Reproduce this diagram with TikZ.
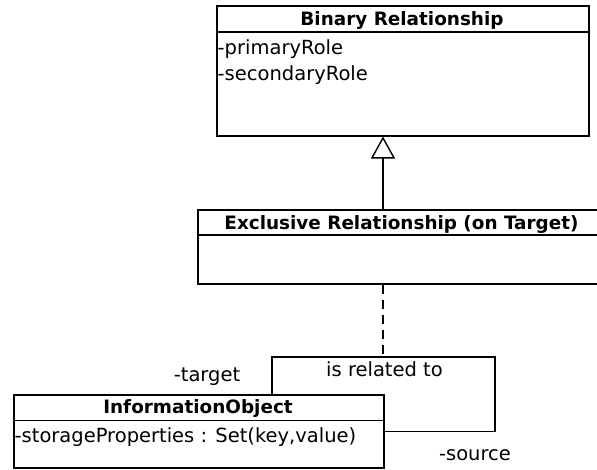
\documentclass[tikz,border=0pt]{standalone}
\usepackage{fontspec}
\setmainfont{DejaVu Sans}
\usetikzlibrary{arrows.meta}

\tikzset{
  classbox/.style={draw, line width=1.5pt, rectangle, inner sep=0pt},
  compartment/.style={line width=1.5pt},
  classname/.style={inner sep=0pt, anchor=base, font=\bfseries\fontsize{18.4}{22}\selectfont},
  member/.style={inner sep=0pt, anchor=base west, font=\fontsize{19.5}{24}\selectfont},
  rolename/.style={inner sep=0pt, anchor=base, font=\fontsize{19.5}{24}\selectfont},
  generalization/.style={line width=1.4pt, -{Triangle[open, length=22pt, width=24pt, line width=1.4pt]}},
  association/.style={line width=1.4pt},
  assocclass/.style={line width=1.3pt, dash pattern=on 9pt off 6pt},
}

\begin{document}
\begin{tikzpicture}[x=1pt, y=-1pt]
  \clip (0,0) rectangle (597,469);
  \fill[white] (0,0) rectangle (597,469);

  % Binary Relationship class
  \node[classbox, minimum width=372pt, minimum height=130pt, anchor=north west] (binrel) at (216,5) {};
  \draw[compartment] (216,32) -- (588,32);
  \node[classname] (binreltitle) at (402,25) {Binary Relationship};
  \node[member] (primary) at (217.5,54.5) {-primaryRole};
  \node[member] (secondary) at (217.5,80) {-secondaryRole};

  % Exclusive Relationship (on Target) class
  \node[classbox, minimum width=420pt, minimum height=74pt, anchor=north west] (excl) at (197,209) {};
  \draw[compartment] (197,235) -- (617,235);
  \node[classname] (excltitle) at (401.5,229.5) {Exclusive Relationship (on Target)};

  % InformationObject class
  \node[classbox, minimum width=370pt, minimum height=73pt, anchor=north west] (info) at (13,394) {};
  \draw[compartment] (13,420.5) -- (383,420.5);
  \node[classname] (infotitle) at (198,413.5) {InformationObject};
  \node[member] (storage) at (14.5,442.8) {-storageProperties : Set(key,value)};

  % generalization to Binary Relationship
  \coordinate (genx) at (383,0);
  \draw[generalization] (excl.north -| genx) -- (binrel.south -| genx);

  % reflexive association on InformationObject
  \coordinate (loopw) at (272,357);
  \coordinate (loopne) at (495,357);
  \coordinate (assoc) at (383,357);
  \draw[association] (info.north -| loopw) -- (loopw) -- (loopne) |- (info.east);

  % association class link
  \draw[assocclass] (excl.south -| assoc) -- (assoc);

  % labels
  \node[rolename] (assoclabel) at (384.5,376.7) {is related to};
  \node[rolename] (target) at (207,381.7) {-target};
  \node[rolename] (source) at (475,460) {-source};
\end{tikzpicture}
\end{document}
